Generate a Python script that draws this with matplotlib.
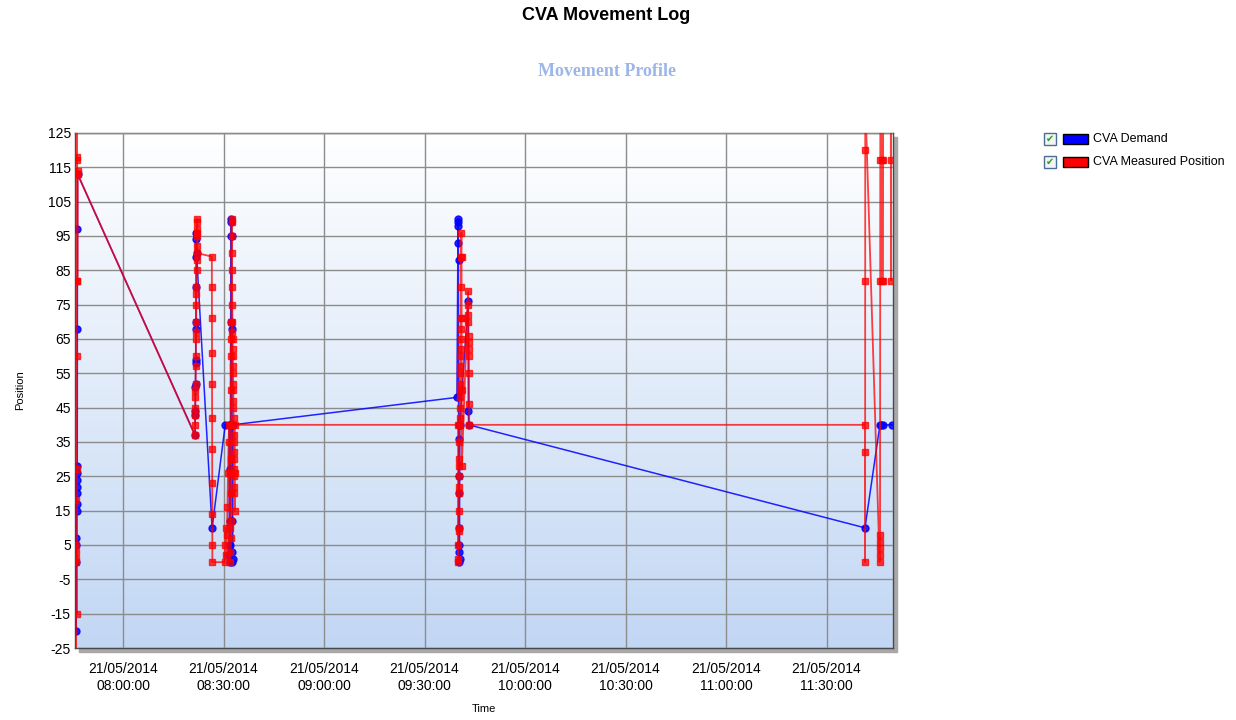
import numpy as np
import pandas as pd
import matplotlib
matplotlib.use("Agg")
import matplotlib.pyplot as plt
import matplotlib.dates as mdates
from matplotlib.colors import LinearSegmentedColormap
from matplotlib.patches import Rectangle

plt.rcParams['font.family'] = ['Liberation Sans', 'DejaVu Sans']
plt.rcParams['axes.unicode_minus'] = False

day = "2014-05-21 "

# CVA Demand (blue)
demand_t = [
    "07:46:00", "07:46:02", "07:46:04", "07:46:06", "07:46:08", "07:46:10", "07:46:12",
    "07:46:14", "07:46:16", "07:46:18", "07:46:20", "07:46:22", "07:46:24", "07:46:26",
    "08:21:30", "08:21:32", "08:21:34", "08:21:36", "08:21:38", "08:21:40", "08:21:42",
    "08:21:44", "08:21:46", "08:21:48", "08:21:50", "08:21:52", "08:21:54", "08:21:56",
    "08:26:35", "08:30:30",
    "08:31:40", "08:31:44", "08:31:48", "08:31:52", "08:31:56", "08:32:00", "08:32:04",
    "08:32:08", "08:32:12", "08:32:16", "08:32:20", "08:32:24", "08:32:28", "08:32:32",
    "08:32:36", "08:32:38", "08:32:40", "08:32:42", "08:32:44",
    "09:39:40", "09:40:00", "09:40:02", "09:40:04", "09:40:06", "09:40:08", "09:40:10",
    "09:40:12", "09:40:14", "09:40:16", "09:40:18", "09:40:20", "09:40:22", "09:40:24",
    "09:40:26", "09:40:30", "09:43:00", "09:43:05", "09:43:10",
    "11:41:28", "11:45:56", "11:46:20", "11:46:50", "11:49:30",
]
demand_v = [
    -20, 0, 7, 5, 15, 17, 20,
    22, 24, 26, 28, 68, 97, 113,
    37, 43, 44, 51, 52, 58, 59,
    68, 70, 80, 89, 94, 96, 90,
    10, 40,
    40, 2, 5, 0, 12, 27, 40,
    70, 95, 100, 99, 95, 68, 40,
    12, 3, 0, 1, 40,
    48, 100, 99, 98, 93, 88, 40,
    36, 25, 20, 10, 5, 3, 0,
    1, 40, 76, 44, 40,
    10, 40, 40, 40, 40,
]

# CVA Measured Position (red)
measured_t = [
    "07:45:44", "07:45:48", "07:45:52", "07:45:56", "07:45:58", "07:46:00", "07:46:02",
    "07:46:04", "07:46:06", "07:46:08", "07:46:10", "07:46:12", "07:46:14", "07:46:16",
    "07:46:18", "07:46:20", "07:46:22", "07:46:24", "07:46:26", "07:46:28",
    "08:21:27", "08:21:29", "08:21:31", "08:21:33", "08:21:35", "08:21:37", "08:21:39",
    "08:21:41", "08:21:43", "08:21:45", "08:21:47", "08:21:49", "08:21:51", "08:21:53",
    "08:21:55", "08:21:57", "08:21:59", "08:22:01", "08:22:03", "08:22:05", "08:22:07",
    "08:22:09", "08:22:11", "08:22:13",
    "08:26:30", "08:26:31", "08:26:32", "08:26:33", "08:26:34", "08:26:35", "08:26:36",
    "08:26:37", "08:26:38", "08:26:39", "08:26:40",
    "08:30:20", "08:30:30", "08:30:40", "08:30:50", "08:31:00", "08:31:10", "08:31:20",
    "08:31:30", "08:31:40", "08:31:50", "08:32:00", "08:32:02", "08:32:04", "08:32:06",
    "08:32:08", "08:32:10", "08:32:12", "08:32:14", "08:32:16", "08:32:18", "08:32:20",
    "08:32:22", "08:32:24", "08:32:26", "08:32:28", "08:32:30", "08:32:32", "08:32:34",
    "08:32:36", "08:32:38", "08:32:40", "08:32:42", "08:32:44", "08:32:46", "08:32:48",
    "08:32:50", "08:32:52", "08:32:54", "08:32:56", "08:32:58", "08:33:00", "08:33:02",
    "08:33:04", "08:33:06", "08:33:08", "08:33:10", "08:33:12", "08:33:14", "08:33:16",
    "08:33:18", "08:33:20", "08:33:22",
    "09:40:00", "09:40:02", "09:40:04", "09:40:06", "09:40:08", "09:40:10", "09:40:12",
    "09:40:14", "09:40:16", "09:40:18", "09:40:20", "09:40:22", "09:40:24", "09:40:26",
    "09:40:28", "09:40:30", "09:40:32", "09:40:34", "09:40:36", "09:40:38", "09:40:40",
    "09:40:42", "09:40:44", "09:40:46", "09:40:48", "09:40:50", "09:40:52", "09:40:54",
    "09:41:00", "09:41:02", "09:41:04", "09:41:06", "09:41:08",
    "09:43:00", "09:43:02", "09:43:04", "09:43:06", "09:43:08", "09:43:10", "09:43:12",
    "09:43:14", "09:43:16", "09:43:18", "09:43:20",
    "11:41:28", "11:41:29", "11:41:30", "11:41:31", "11:41:32", "11:41:33",
    "11:45:50", "11:45:52", "11:45:54", "11:45:56", "11:45:58", "11:46:00", "11:46:02",
    "11:46:04", "11:46:30", "11:46:32", "11:46:50", "11:46:52", "11:46:54",
    "11:49:10", "11:49:12", "11:49:14", "11:49:16",
]
measured_v = [
    135, -30, 135, -30, 0, 1, 5,
    3, 18, 27, -15, 60, 82, 135,
    118, 117, 82, 113, 114, 113,
    37, 40, 43, 45, 48, 50, 52,
    57, 60, 65, 67, 70, 75, 78,
    80, 85, 88, 92, 95, 97, 99,
    100, 96, 90,
    89, 80, 71, 61, 52, 42, 33,
    23, 14, 5, 0,
    0, 5, 10, 2, 8, 16, 26,
    35, 40, 26, 10, 0, 3, 7,
    12, 20, 30, 40, 50, 60, 65,
    70, 100, 99, 95, 90, 85, 80,
    75, 70, 67, 65, 62, 60, 57,
    55, 52, 50, 47, 45, 42, 37,
    35, 32, 30, 27, 25, 22, 20,
    15, 26, 40,
    40, 0, 1, 5, 9, 10, 15,
    20, 22, 25, 28, 30, 35, 40,
    42, 45, 48, 50, 52, 55, 57,
    60, 62, 65, 68, 71, 80, 89,
    96, 89, 71, 50, 28,
    79, 75, 72, 70, 66, 64, 62,
    60, 55, 46, 40,
    40, 32, 0, 82, 120, 135,
    0, 2, 4, 6, 8, 82, 117,
    135, 117, 82, 82, 117, 135,
    135, 117, 82, 135,
]

y_ticks = list(range(-25, 126, 10))
x_ticks = ["08:00:00", "08:30:00", "09:00:00", "09:30:00", "10:00:00", "10:30:00", "11:00:00", "11:30:00"]

demand_x = pd.to_datetime([day + t for t in demand_t])
measured_x = pd.to_datetime([day + t for t in measured_t])

fig = plt.figure(figsize=(12.36, 7.2), dpi=100)
ax = fig.add_axes([0.0607, 0.1, 0.6618, 0.7153])

# shadow behind plot area
W, H = 1236, 720
fig.patches.append(Rectangle(((75 + 4) / W, (72 - 4) / H), 818 / W, 515 / H,
                             transform=fig.transFigure, color='#a8a8a8', zorder=-5))

grad = LinearSegmentedColormap.from_list('bg', ['#ffffff', '#c2d7f4'])
ax.imshow(np.linspace(0, 1, 256).reshape(-1, 1), cmap=grad, aspect='auto',
          extent=[0, 1, 0, 1], transform=ax.transAxes, zorder=0)

ax.plot(demand_x, demand_v, color='#0000ff', lw=1.1, marker='o', ms=5,
        alpha=0.85, zorder=3)
ax.plot(measured_x, measured_v, color='#ff0000', lw=1.3, marker='s', ms=3.8,
        alpha=0.75, zorder=4)

ax.set_xlim(pd.Timestamp(day + "07:45:40"), pd.Timestamp(day + "11:49:50"))
ax.set_ylim(-25, 125)
ax.set_yticks(y_ticks)
ax.set_xticks(pd.to_datetime([day + t for t in x_ticks]))
ax.xaxis.set_major_formatter(mdates.DateFormatter('%d/%m/%Y\n%H:%M:%S'))
ax.tick_params(axis='both', length=0, labelsize=10, colors='#000000')
ax.tick_params(axis='x', pad=10)
ax.tick_params(axis='y', pad=3)
for lbl in ax.get_xticklabels():
    lbl.set_linespacing(1.25)
ax.grid(True, color='#8c8c8c', lw=1)
ax.set_axisbelow(False)
for g in ax.get_xgridlines() + ax.get_ygridlines():
    g.set_zorder(1)
for s in ax.spines.values():
    s.set_color('#4a4a4a')
    s.set_linewidth(1)

ax.set_ylabel('Position', fontsize=8, labelpad=16)
ax.set_xlabel('Time', fontsize=8, labelpad=8)

fig.text(606 / W, 1 - 16 / H, 'CVA Movement Log', ha='center', va='center',
         fontsize=13, fontweight='bold')
fig.text(607 / W, 1 - 72 / H, 'Movement Profile', ha='center', va='center',
         fontsize=13, fontweight='bold', family='Liberation Serif', color='#9db6e8')

# legend with checkboxes
for i, (name, col) in enumerate([('CVA Demand', '#0000ff'), ('CVA Measured Position', '#ff0000')]):
    yc = 139 + i * 23
    fig.patches.append(Rectangle((1044 / W, 1 - (yc + 6) / H), 12 / W, 12 / H,
                                 transform=fig.transFigure, facecolor='#f4f4f4',
                                 edgecolor='#4a6f96', lw=1))
    fig.text(1050 / W, 1 - yc / H, '\u2714', ha='center', va='center',
             fontsize=7, color='#22a022', family='DejaVu Sans')
    fig.patches.append(Rectangle((1063 / W, 1 - (yc + 5) / H), 25 / W, 10 / H,
                                 transform=fig.transFigure, facecolor=col,
                                 edgecolor='#000000', lw=1))
    fig.text(1093 / W, 1 - yc / H, name, ha='left', va='center', fontsize=9)

fig.savefig('out.png', dpi=100)
